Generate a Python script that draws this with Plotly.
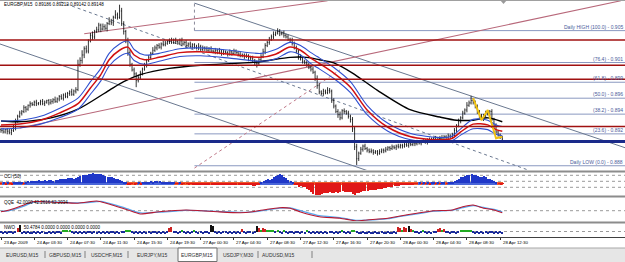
import plotly.graph_objects as go

W, H = 625, 262

# ---------------- data (prices in pips, /10000) ----------------
title_text = "EURGBP,M15  0.89186 0.89212 0.89142 0.89148"

first_open = 8927
closes = [
    8926, 8924, 8927, 8925, 8923, 8926, 8929, 8938, 8944, 8948,
    8950, 8955, 8953, 8958, 8960, 8959, 8962, 8960, 8961, 8963,
    8960, 8962, 8964, 8961, 8963, 8965, 8963, 8966, 8969, 8967,
    8971, 8969, 8973, 8975, 8972, 8976, 8978, 9010, 9015, 9022,
    9030, 9027, 9040, 9047, 9045, 9052, 9054, 9060, 9055, 9058,
    9056, 9062, 9065, 9063, 9070, 9073, 9070, 9078, 9062, 9052,
    9040, 9025, 9010, 9003, 8998, 8990, 8993, 8999, 9004, 9009,
    9015, 9019, 9024, 9028, 9031, 9034, 9032, 9036, 9035, 9037,
    9039, 9040, 9038, 9041, 9039, 9037, 9040, 9036, 9038, 9034,
    9036, 9033, 9035, 9032, 9031, 9033, 9029, 9031, 9030, 9028,
    9030, 9027, 9026, 9028, 9025, 9027, 9024, 9026, 9025, 9023,
    9026, 9024, 9027, 9025, 9023, 9021, 9022, 9020, 9021, 9019,
    9018, 9015, 9012, 9011, 9016, 9020, 9026, 9034, 9038, 9042,
    9045, 9048, 9050, 9052, 9049, 9050, 9047, 9045, 9042, 9041,
    9037, 9031, 9027, 9020, 9017, 9014, 9012, 9010, 9006, 9004,
    9000, 8992, 8983, 8975, 8973, 8976, 8974, 8977, 8976, 8964,
    8957, 8950, 8946, 8942, 8951, 8950, 8948, 8944, 8940, 8928,
    8905, 8890, 8897, 8902, 8906, 8903, 8901, 8899, 8900, 8898,
    8899, 8897, 8899, 8901, 8900, 8902, 8904, 8903, 8905, 8904,
    8906, 8905, 8907, 8906, 8908, 8907, 8909, 8908, 8910, 8909,
    8911, 8910, 8912, 8913, 8911, 8914, 8913, 8915, 8916, 8914,
    8916, 8917, 8915, 8918, 8917, 8919, 8918, 8920, 8926, 8932,
    8938, 8942, 8948, 8952, 8958, 8961, 8964, 8962, 8956, 8950,
    8944, 8941, 8945, 8948, 8947, 8950, 8940, 8932, 8924, 8920,
    8917, 8915,
]
wick_up = [
    2, 3, 1, 2, 3, 2, 4, 3, 2, 3,
    2, 3, 2, 1, 3, 2, 2, 3, 1, 2,
    3, 2, 1, 2, 3, 2, 4, 2, 2, 3,
    2, 3, 2, 2, 4, 2, 3, 6, 4, 6,
    3, 4, 2, 3, 5, 2, 4, 3, 2, 4,
    3, 2, 5, 3, 2, 6, 3, 8, 4, 3,
    2, 4, 3, 2, 3, 2, 4, 3, 2, 3,
    2, 3, 2, 4, 3, 2, 3, 2, 4, 3,
    2, 3, 4, 2, 3, 2, 3, 4, 2, 3,
    2, 3, 2, 2, 3, 4, 2, 3, 2, 3,
    2, 3, 2, 3, 2, 4, 2, 3, 2, 2,
    3, 2, 3, 2, 2, 3, 2, 2, 3, 2,
    2, 3, 2, 3, 2, 3, 4, 3, 2, 3,
    3, 4, 2, 4, 3, 2, 3, 2, 3, 2,
    3, 2, 3, 2, 3, 2, 2, 3, 2, 2,
    3, 2, 4, 3, 2, 3, 2, 4, 3, 2,
    3, 2, 3, 4, 2, 3, 2, 3, 2, 3,
    3, 4, 2, 3, 2, 3, 2, 2, 3, 2,
    2, 2, 3, 2, 2, 3, 2, 2, 3, 2,
    2, 3, 2, 2, 3, 2, 2, 3, 2, 2,
    3, 2, 2, 3, 2, 2, 3, 2, 2, 3,
    2, 2, 3, 2, 2, 3, 2, 3, 3, 2,
    3, 2, 3, 2, 4, 3, 6, 3, 2, 3,
    2, 3, 2, 3, 4, 2, 3, 2, 3, 2,
    2, 2,
]
wick_dn = [
    3, 2, 2, 4, 2, 3, 2, 3, 2, 2,
    3, 2, 4, 2, 3, 2, 2, 3, 2, 3,
    2, 3, 2, 3, 2, 3, 2, 2, 3, 2,
    3, 2, 2, 3, 2, 2, 3, 2, 3, 4,
    4, 3, 3, 2, 4, 3, 2, 3, 4, 2,
    3, 4, 2, 3, 4, 2, 3, 2, 3, 4,
    3, 4, 3, 2, 4, 9, 3, 2, 3, 2,
    3, 2, 3, 2, 2, 3, 2, 3, 2, 2,
    2, 3, 2, 2, 3, 2, 2, 3, 2, 3,
    2, 2, 3, 2, 2, 3, 2, 2, 3, 2,
    3, 2, 2, 3, 2, 2, 3, 2, 2, 3,
    2, 3, 2, 2, 3, 2, 2, 3, 2, 5,
    3, 2, 4, 5, 2, 3, 2, 3, 2, 3,
    2, 3, 2, 2, 3, 2, 3, 2, 2, 3,
    3, 2, 3, 4, 2, 3, 2, 3, 2, 3,
    2, 3, 4, 3, 2, 3, 2, 2, 3, 3,
    3, 2, 4, 3, 2, 3, 2, 3, 4, 4,
    4, 8, 3, 2, 3, 2, 3, 2, 2, 3,
    2, 3, 2, 2, 3, 2, 2, 3, 2, 2,
    3, 2, 2, 3, 2, 2, 3, 2, 2, 3,
    2, 2, 3, 2, 2, 3, 2, 2, 3, 2,
    2, 3, 2, 2, 3, 2, 2, 3, 2, 2,
    2, 3, 2, 2, 3, 2, 2, 3, 2, 3,
    3, 2, 3, 2, 2, 3, 2, 3, 2, 2,
    2, 2,
]

ma_long_x = [0, 8, 24, 37, 52, 59, 67, 81, 96, 123, 139, 147, 153, 160, 169, 181, 197, 211, 219, 227, 234, 241]
ma_long = [8938, 8937, 8942, 8953, 8977, 8988, 8997, 9005, 9009, 9013, 9019, 9019, 9016, 9012, 8999, 8977, 8952, 8943, 8939, 8939, 8942, 8937]

ma_mid_x = [0, 9, 19, 28, 37, 43, 48, 52, 57, 61, 64, 69, 76, 86, 96, 110, 125, 132, 139, 144,
            149, 152, 160, 168, 176, 186, 197, 211, 217, 221, 227, 234, 238, 241]
ma_mid = [8933, 8934, 8939, 8948, 8960, 8980, 8997, 9016, 9028, 9032, 9022, 9016, 9019, 9025, 9026, 9023, 9019, 9023, 9032, 9028,
          9018, 9013, 8999, 8981, 8952, 8930, 8918, 8914, 8916, 8924, 8934, 8933, 8927, 8925]
ma_upper = [8938, 8939, 8944, 8954, 8967, 8988, 9005, 9024, 9036, 9040, 9029, 9022, 9024, 9030, 9031, 9028, 9024, 9029, 9038, 9034,
            9025, 9020, 9006, 8988, 8958, 8935, 8922, 8917, 8919, 8928, 8940, 8939, 8933, 8931]
ma_lower = [8928, 8929, 8934, 8942, 8953, 8972, 8989, 9008, 9020, 9024, 9015, 9010, 9014, 9020, 9021, 9018, 9014, 9017, 9026, 9022,
            9011, 9006, 8992, 8974, 8946, 8925, 8914, 8911, 8913, 8920, 8928, 8927, 8921, 8919]

zigzag_x = [227, 231, 234, 238, 241]
zigzag = [8967, 8939, 8952, 8916, 8918]

red_levels = [9041, 9009, 8991, 8931]
support_level = 8912
fib_low, fib_high = 8881, 9053
fib_start_bar = 93
fib_pcts = [0.0, 23.6, 38.2, 50.0, 61.8, 76.4, 100.0]
fib_labels = ["Daily LOW (0.0) - 0.888", "(23.6) - 0.892", "(38.2) - 0.894", "(50.0) - 0.896",
              "(61.8) - 0.899", "(76.4) - 0.901", "Daily HIGH (100.0) - 0.905"]

# trendlines: (bar0, pips0, bar1, pips1)
pink_lines = [(9, 8929, 298, 9091), (40, 9049, 157, 9091)]
pink_dash_lines = [(93, 8878, 163, 9003)]
gray_lines = [(-0.5, 9036, 177, 8874), (93, 9088, 300, 8904)]
gray_dash_lines = [(26, 9092, 253, 8876)]

cci = [
    -10, 15, -20, 10, -15, -25, 20, 30, 45, 40,
    20, -10, 35, 50, 60, 55, 70, 65, 75, 60,
    70, 80, 65, 75, 85, 70, 80, 90, 110, 100,
    120, 110, 130, 125, 140, 120, 135, 160, 190, 200,
    210, 220, 230, 240, 250, 240, 230, 245, 225, 210,
    190, 170, 160, 150, 130, 110, 100, 80, 60, 40,
    10, -20, -30, -15, -25, -10, 15, -20, 10, 20,
    30, 40, 50, 45, 60, 55, 50, 45, 40, 35,
    30, 25, 20, 15, -10, -15, 10, -20, -15, -10,
    -20, -15, -25, -20, -30, -25, -35, -30, -40, -35,
    -30, -40, -35, -45, -30, -40, -35, -30, -45, -40,
    -35, -30, -40, -35, -30, -25, -35, -40, -30, -45,
    -50, -60, -55, -40, -20, 20, 50, 80, 100, 90,
    120, 150, 180, 210, 230, 200, 170, 130, 90, 60,
    30, -20, -50, -80, -60, -100, -90, -130, -170, -220,
    -260, -290, -320, -300, -270, -250, -240, -230, -220, -250,
    -240, -220, -230, -210, -200, -215, -205, -210, -220, -260,
    -280, -250, -230, -210, -200, -190, -180, -175, -170, -165,
    -160, -150, -140, -130, -120, -110, -100, -90, -80, -70,
    -60, -55, -50, -45, -40, -35, -30, -25, -20, -15,
    -10, 10, -15, 15, -10, 20, -20, 15, 10, -15,
    20, -10, 15, 25, -15, 20, 30, 40, 60, 90,
    120, 150, 170, 190, 210, 200, 230, 220, 200, 190,
    170, 160, 175, 150, 120, 100, 80, 50, 20, -10,
    -20, -15,
]
cci_levels = [200, 50, -100]

qqe_x = [0, 4, 11, 15, 20, 28, 37, 46, 48, 56, 61, 67, 76, 89, 96, 104, 115, 121, 128, 134, 139, 144,
         153, 163, 171, 176, 186, 192, 200, 208, 217, 222, 227, 232, 237, 241]
qqe_fast = [46, 53, 73, 86, 86, 83, 80, 89, 86, 66, 53, 37, 46, 53, 50, 46, 42, 46, 56, 62, 60, 45,
            26, 20, 9, 13, 20, 29, 40, 50, 53, 66, 73, 60, 53, 42]
qqe_slow = [47, 50, 68, 83, 86, 84, 81, 86, 87, 70, 57, 41, 44, 51, 50, 47, 43, 45, 53, 60, 61, 50,
            30, 22, 11, 12, 18, 27, 37, 48, 52, 62, 70, 63, 55, 45]
qqe_level = 50

nwo = [
    -1, -2, -1, -2, -1, -1, -2, -1, 4, 7,
    -2, -1, -2, -1, -2, -2, -1, -2, -1, -2,
    -1, -2, -2, -1, -2, -1, -2, -1, -1, -2,
    1, 2, 2, 1, -1, -2, -1, -2, -1, -2,
    -1, -2, -1, -1, -2, -1, -2, -1, -2, -1,
    -2, -1, -2, -1, -1, -2, -1, -2, -1, -1,
    2, 2, 1, -1, -2, -1, -2, -1, -2, -1,
    -2, -1, -2, -1, -1, -2, -1, -2, -1, -2,
    -1, 4, 5, -1, -1, -2, -1, 1, -1, -2,
    -1, -2, -1, 1, -1, -2, -1, -2, -1, -1,
    -2, 7, 6, -1, -2, -1, -2, -1, -1, -2,
    -1, -2, -1, -2, -1, -2, 3, -1, -2, -1,
    -1, -2, -1, 6, 4, 1, 4, 3, 1, 2,
    1, 2, -1, 1, -1, -2, 1, -1, -2, -1,
    -1, -2, -1, -1, -2, -1, -2, 1, -1, -2,
    -1, -2, -1, -2, -1, -2, -1, -2, -1, -1,
    -2, -1, -2, -1, 1, -1, -2, -1, -2, 2,
    2, -1, -2, -2, -1, -2, -2, -1, -2, -2,
    -1, -2, -2, -1, -2, -2, -1, -2, -2, -1,
    -2, 5, 4, 2, 5, 4, 6, 3, 2, -1,
    -1, -2, -1, 2, -1, -2, -1, -2, -1, -1,
    3, 4, 2, 3, -1, -1, -2, -1, -1, -2,
    -1, 2, 2, 1, 2, 2, 1, -1, -2, -1,
    -2, -1, -2, -1, -2, -1, -1, -2, -1, -2,
    -1, -2,
]

tick_bars = [0, 16, 32, 48, 64, 80, 96, 112, 128, 144, 160, 176, 192, 208, 224, 240]
tick_labels = ["23 Apr 2009", "24 Apr 03:30", "24 Apr 07:30", "24 Apr 11:30", "24 Apr 15:30",
               "24 Apr 19:30", "27 Apr 00:30", "27 Apr 04:30", "27 Apr 08:30", "27 Apr 12:30",
               "27 Apr 16:30", "27 Apr 20:30", "28 Apr 00:30", "28 Apr 04:30", "28 Apr 08:30",
               "28 Apr 12:30"]

tabs = ["EURUSD,M15", "GBPUSD,M15", "USDCHF,M15", "EURJPY,M15", "EURGBP,M15", "USDJPY,M30", "AUDUSD,M15"]
active_tab = "EURGBP,M15"

cci_label = "CCI (50)"
qqe_label = "QQE  42.0000 42.2616 62.2034"
nwo_label = "NWO       50.4784 0.0000 0.0000 0.0000 0.0000"

# ---------------- derived ----------------
n = len(closes)
bars = list(range(n))
opens = [first_open] + closes[:-1]
highs = [max(o, c) + u for o, c, u in zip(opens, closes, wick_up)]
lows = [min(o, c) - d for o, c, d in zip(opens, closes, wick_dn)]


def pr(seq):
    return [v / 10000.0 for v in seq]


def P(py):
    return 1 - py / H


FONT = "Liberation Sans"
X_RANGE = [-0.48, 300.0]

fig = go.Figure()

# main price bars
fig.add_trace(go.Ohlc(
    x=bars, open=pr(opens), high=pr(highs), low=pr(lows), close=pr(closes),
    increasing=dict(line=dict(color="#000000", width=0.8)),
    decreasing=dict(line=dict(color="#000000", width=0.8)),
    tickwidth=0.3, xaxis="x", yaxis="y", hoverinfo="skip"))

fig.add_trace(go.Scatter(x=ma_long_x, y=pr(ma_long), mode="lines", line=dict(color="#000000", width=1.4, shape="spline", smoothing=0.8), xaxis="x", yaxis="y"))
for arr in (ma_upper, ma_lower):
    fig.add_trace(go.Scatter(x=ma_mid_x, y=pr(arr), mode="lines", line=dict(color="#3050d0", width=1.1, shape="spline", smoothing=0.8), xaxis="x", yaxis="y"))
fig.add_trace(go.Scatter(x=ma_mid_x, y=pr(ma_mid), mode="lines", line=dict(color="#d01010", width=1.5, shape="spline", smoothing=0.8), xaxis="x", yaxis="y"))
fig.add_trace(go.Scatter(x=zigzag_x, y=pr(zigzag), mode="lines", line=dict(color="#f0c010", width=2), xaxis="x", yaxis="y"))

# CCI
fig.add_trace(go.Bar(x=bars, y=[30 * 2] * n, base=[-30] * n, width=1.0,
                     marker=dict(color=["#4a66d8" if v > 0 else "#f05a2a" for v in cci], line=dict(width=0)),
                     xaxis="x2", yaxis="y2"))
fig.add_trace(go.Bar(x=bars, y=cci, width=0.55,
                     marker=dict(color=["#2038c8" if v > 0 else "#e01818" for v in cci], line=dict(width=0)),
                     xaxis="x2", yaxis="y2"))

# QQE
fig.add_trace(go.Scatter(x=qqe_x, y=qqe_slow, mode="lines", line=dict(color="#5aa8ee", width=1.3, shape="spline", smoothing=0.6), xaxis="x3", yaxis="y3"))
fig.add_trace(go.Scatter(x=qqe_x, y=qqe_fast, mode="lines", line=dict(color="#b81830", width=1.1, shape="spline", smoothing=0.6), xaxis="x3", yaxis="y3"))


# NWO histogram
def nwo_color(v):
    if v < 0:
        return "#1a2a9a"
    if v <= 2:
        return "#22aa22"
    if v <= 5:
        return "#cc2222"
    return "#111111"


fig.add_trace(go.Bar(x=bars, y=nwo, width=0.6,
                     marker=dict(color=[nwo_color(v) for v in nwo], line=dict(width=0)),
                     xaxis="x4", yaxis="y4"))

shapes = []
annotations = []

# fib levels
fib_range = fib_high - fib_low
for pct, lab in zip(fib_pcts, fib_labels):
    lvl = (fib_low + fib_range * pct / 100.0) / 10000.0
    shapes.append(dict(type="line", xref="x", yref="y", x0=fib_start_bar, x1=X_RANGE[1], y0=lvl, y1=lvl,
                       line=dict(color="#8a98c0", width=1), layer="below"))
    annotations.append(dict(text=lab, xref="paper", yref="y", x=1.0, y=lvl, xanchor="right", yanchor="bottom",
                            showarrow=False, font=dict(family=FONT, size=5, color="#4a5a9a"), yshift=-1))
shapes.append(dict(type="line", xref="x", yref="y", x0=fib_start_bar, x1=fib_start_bar, y0=fib_high / 10000.0, y1=0.9095,
                   line=dict(color="#8a8a9a", width=1, dash="dot"), layer="below"))

for (a0, b0, a1, b1) in gray_lines:
    shapes.append(dict(type="line", xref="x", yref="y", x0=a0, y0=b0 / 1e4, x1=a1, y1=b1 / 1e4,
                       line=dict(color="#6a7890", width=1), layer="below"))
for (a0, b0, a1, b1) in gray_dash_lines:
    shapes.append(dict(type="line", xref="x", yref="y", x0=a0, y0=b0 / 1e4, x1=a1, y1=b1 / 1e4,
                       line=dict(color="#6a7890", width=1, dash="dot"), layer="below"))
for (a0, b0, a1, b1) in pink_lines:
    shapes.append(dict(type="line", xref="x", yref="y", x0=a0, y0=b0 / 1e4, x1=a1, y1=b1 / 1e4,
                       line=dict(color="#b8687a", width=1.1), layer="below"))
for (a0, b0, a1, b1) in pink_dash_lines:
    shapes.append(dict(type="line", xref="x", yref="y", x0=a0, y0=b0 / 1e4, x1=a1, y1=b1 / 1e4,
                       line=dict(color="#c07888", width=1, dash="dot"), layer="below"))

for lvl in red_levels:
    shapes.append(dict(type="line", xref="paper", yref="y", x0=0, x1=1, y0=lvl / 1e4, y1=lvl / 1e4,
                       line=dict(color="#a01010", width=1.5), layer="above"))
shapes.append(dict(type="line", xref="paper", yref="y", x0=0, x1=1, y0=support_level / 1e4, y1=support_level / 1e4,
                   line=dict(color="#1a2a8a", width=3), layer="above"))

# indicator dotted levels
for lvl in cci_levels:
    shapes.append(dict(type="line", xref="paper", yref="y2", x0=0, x1=1, y0=lvl, y1=lvl,
                       line=dict(color="#9a9a9a", width=1, dash="dot"), layer="below"))
shapes.append(dict(type="line", xref="paper", yref="y3", x0=0, x1=1, y0=qqe_level, y1=qqe_level,
                   line=dict(color="#9a9a9a", width=1, dash="dot"), layer="below"))
shapes.append(dict(type="line", xref="paper", yref="y4", x0=0, x1=1, y0=0, y1=0,
                   line=dict(color="#9a9a9a", width=1, dash="dot"), layer="below"))

# panel separators and frame
for (a, b) in [(170.5, 172.5), (195.5, 197.5), (221.5, 223.5)]:
    shapes.append(dict(type="rect", xref="paper", yref="paper", x0=0, x1=1, y0=P(b), y1=P(a),
                       fillcolor="#8c8c8c", line=dict(width=0), layer="above"))
shapes.append(dict(type="line", xref="paper", yref="paper", x0=0, x1=1, y0=P(0.5), y1=P(0.5),
                   line=dict(color="#a0a0a0", width=1)))
shapes.append(dict(type="path", xref="paper", yref="paper",
                   path=f"M {500/W},{P(0)} L {507/W},{P(0)} L {503.5/W},{P(4)} Z",
                   fillcolor="#9a9a9a", line=dict(width=0)))

# tab bar
shapes.append(dict(type="rect", xref="paper", yref="paper", x0=0, x1=1, y0=0, y1=P(248),
                   fillcolor="#e6e6e6", line=dict(width=0), layer="above"))
shapes.append(dict(type="line", xref="paper", yref="paper", x0=0, x1=1, y0=P(248), y1=P(248),
                   line=dict(color="#a8a8a8", width=1), layer="above"))
tab_centers = [22, 65, 107, 152, 197, 238, 278]
tab_seps = [45, 85, 128, 258, 312]
for t, cx in zip(tabs, tab_centers):
    if t == active_tab:
        shapes.append(dict(type="rect", xref="paper", yref="paper", x0=178 / W, x1=217 / W, y0=P(261.5), y1=P(248),
                           fillcolor="#ffffff", line=dict(color="#707070", width=1), layer="above"))
    annotations.append(dict(text=t, xref="paper", yref="paper", x=cx / W, y=P(254.5), xanchor="center", yanchor="middle",
                            showarrow=False, font=dict(family=FONT, size=5, color="#303030")))
for sx in tab_seps:
    shapes.append(dict(type="line", xref="paper", yref="paper", x0=sx / W, x1=sx / W, y0=P(258), y1=P(251),
                       line=dict(color="#808080", width=1), layer="above"))

# time labels
for b, lab in zip(tick_bars, tick_labels):
    annotations.append(dict(text=lab, xref="x4", yref="paper", x=b, y=P(242.5), xanchor="left", yanchor="middle",
                            xshift=0.5, showarrow=False, font=dict(family=FONT, size=4.4, color="#000000")))

# panel labels
annotations.append(dict(text=title_text, xref="paper", yref="paper", x=2 / W, y=P(5), xanchor="left", yanchor="middle",
                        showarrow=False, font=dict(family=FONT, size=4.5, color="#000000")))
annotations.append(dict(text=cci_label, xref="paper", yref="paper", x=2 / W, y=P(176.5), xanchor="left", yanchor="middle",
                        showarrow=False, font=dict(family=FONT, size=4.5, color="#000000")))
annotations.append(dict(text=qqe_label, xref="paper", yref="paper", x=2 / W, y=P(202), xanchor="left", yanchor="middle",
                        showarrow=False, font=dict(family=FONT, size=4.5, color="#000000")))
annotations.append(dict(text=nwo_label, xref="paper", yref="paper", x=2 / W, y=P(227.5), xanchor="left", yanchor="middle",
                        showarrow=False, font=dict(family=FONT, size=4.5, color="#000000")))

fig.update_layout(
    width=W, height=H, autosize=False,
    margin=dict(l=0, r=0, t=0, b=0, pad=0),
    paper_bgcolor="#ffffff", plot_bgcolor="#ffffff",
    showlegend=False, hovermode=False, bargap=0,
    xaxis=dict(visible=False, range=X_RANGE, anchor="y", rangeslider=dict(visible=False)),
    xaxis2=dict(visible=False, range=X_RANGE, anchor="y2", matches="x"),
    xaxis3=dict(visible=False, range=X_RANGE, anchor="y3", matches="x"),
    xaxis4=dict(range=X_RANGE, anchor="y4", matches="x", showgrid=False, zeroline=False, showticklabels=False,
                ticks="outside", ticklen=2, tickwidth=1, tickcolor="#303030", tickvals=tick_bars,
                showline=True, linecolor="#404040", linewidth=1),
    yaxis=dict(visible=False, domain=[P(170), P(1)], range=[0.88756, 0.90907]),
    yaxis2=dict(visible=False, domain=[P(195), P(173)], range=[-292.5, 257.5]),
    yaxis3=dict(visible=False, domain=[P(221), P(198)], range=[8.8, 100.8]),
    yaxis4=dict(visible=False, domain=[P(237), P(224)], range=[-5.5, 7.5]),
    shapes=shapes, annotations=annotations,
)

fig.write_html("out.html")
